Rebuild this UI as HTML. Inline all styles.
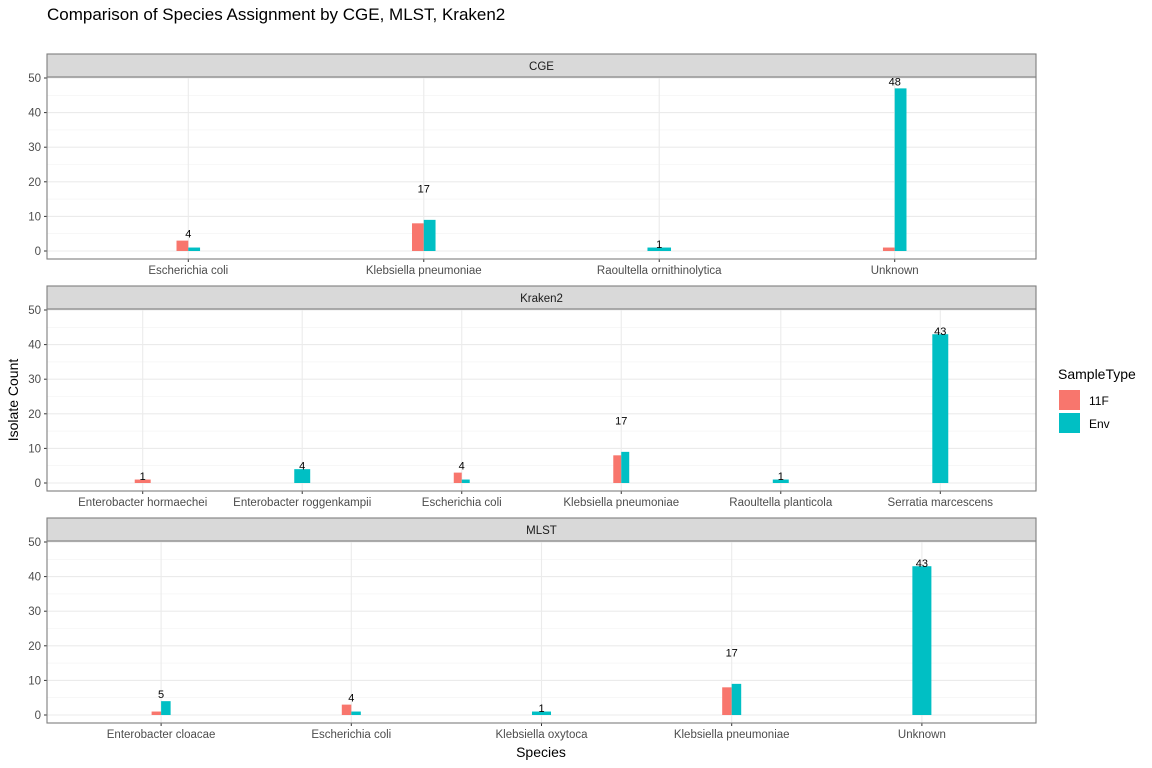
<!DOCTYPE html>
<html><head><meta charset="utf-8"><style>
html,body{margin:0;padding:0;background:#fff;}
svg{display:block;font-family:"Liberation Sans",sans-serif;}
</style></head><body>
<svg id="chart" width="1152" height="768" xmlns="http://www.w3.org/2000/svg">
<text x="47" y="20" font-size="17" fill="#000">Comparison of Species Assignment by CGE, MLST, Kraken2</text>
<text x="18" y="400" font-size="14" fill="#000" transform="rotate(-90 18 400)" text-anchor="middle">Isolate Count</text>
<text x="541" y="757" font-size="14" fill="#000" text-anchor="middle">Species</text>
<g>
<text x="1058" y="379" font-size="14" fill="#000">SampleType</text>
<rect x="1059" y="390" width="21" height="20" fill="#F8766D"/>
<text x="1089" y="405" font-size="12" fill="#000">11F</text>
<rect x="1059" y="413" width="21" height="20" fill="#00BFC4"/>
<text x="1089" y="428" font-size="12" fill="#000">Env</text>
</g>
</svg>
<script>
const panelNames = ["CGE","Kraken2","MLST"];
const cgeCats = ["Escherichia coli","Klebsiella pneumoniae","Raoultella ornithinolytica","Unknown"];
const cge11F = [3,8,0,1];
const cgeEnv = [1,9,1,47];
const krakenCats = ["Enterobacter hormaechei","Enterobacter roggenkampii","Escherichia coli","Klebsiella pneumoniae","Raoultella planticola","Serratia marcescens"];
const kraken11F = [1,0,3,8,0,0];
const krakenEnv = [0,4,1,9,1,43];
const mlstCats = ["Enterobacter cloacae","Escherichia coli","Klebsiella oxytoca","Klebsiella pneumoniae","Unknown"];
const mlst11F = [1,3,0,8,0];
const mlstEnv = [4,1,1,9,43];
const yTicks = [0,10,20,30,40,50];

const NS="http://www.w3.org/2000/svg";
const svg=document.getElementById('chart');
function mk(tag,attrs,parent){const e=document.createElementNS(NS,tag);for(const k in attrs)e.setAttribute(k,attrs[k]);(parent||svg).appendChild(e);return e;}
const panels=[
 {name:panelNames[0],cats:cgeCats,a:cge11F,b:cgeEnv,top:54},
 {name:panelNames[1],cats:krakenCats,a:kraken11F,b:krakenEnv,top:286},
 {name:panelNames[2],cats:mlstCats,a:mlst11F,b:mlstEnv,top:518}
];
const L=47,R=1036;
panels.forEach((p,pi)=>{
 const g=mk('g',{});
 
 
 const pt=p.top+23, pb=pt+182;
 const y0=pt+174, y50=pt+1;
 const ys=v=>y0-(y0-y50)*v/50;
 const n=p.cats.length, step=(R-L)/(n+0.2);
 const xs=i=>L+step*(i+0.6);
 mk('rect',{x:L,y:pt,width:R-L,height:pb-pt,fill:'#fff'},g);
 for(let v=5;v<=45;v+=10){mk('line',{x1:L,x2:R,y1:ys(v),y2:ys(v),stroke:'#F2F2F2','stroke-width':0.6},g);}
 yTicks.forEach(v=>{
  mk('line',{x1:L,x2:R,y1:ys(v),y2:ys(v),stroke:'#EBEBEB','stroke-width':1.1},g);
  mk('line',{x1:L-3,x2:L,y1:ys(v),y2:ys(v),stroke:'#333','stroke-width':1},g);
  const t=mk('text',{x:L-6,y:ys(v)+4,'font-size':11.5,fill:'#4D4D4D','text-anchor':'end'},g);
  t.textContent=v;
  
  
 });
 p.cats.forEach((c,i)=>{
  const cx=xs(i);
  mk('line',{x1:cx,x2:cx,y1:pt,y2:pb,stroke:'#EBEBEB','stroke-width':1.1},g);
  mk('line',{x1:cx,x2:cx,y1:pb,y2:pb+3,stroke:'#333','stroke-width':1},g);
  const t=mk('text',{x:cx,y:pb+15,'font-size':11.5,fill:'#4D4D4D','text-anchor':'middle'},g);
  t.textContent=c;
  
  
  const bw=step*0.1, va=p.a[i], vb=p.b[i];
  const both=va>0&&vb>0;
  const bars=[];
  if(both){bars.push([cx-bw/2,bw/2,va,'#F8766D','11f']);bars.push([cx,bw/2,vb,'#00BFC4','env']);}
  else if(va>0)bars.push([cx-bw/2,bw,va,'#F8766D','11f']);
  else if(vb>0)bars.push([cx-bw/2,bw,vb,'#00BFC4','env']);
  bars.forEach(b=>{
   const r=mk('rect',{x:b[0],y:ys(b[2]),width:b[1],height:y0-ys(b[2]),fill:b[3]},g);
   
   
  });
  const tot=va+vb;
  const lt=mk('text',{x:cx,y:ys(tot+1)+4,'font-size':11,fill:'#000','text-anchor':'middle'},g);
  lt.textContent=tot;
  
  
 });
 mk('rect',{x:L,y:pt,width:R-L,height:pb-pt,fill:'none',stroke:'#7F7F7F','stroke-width':1.1},g);
 const s=mk('rect',{x:L,y:p.top,width:R-L,height:23,fill:'#D9D9D9',stroke:'#7F7F7F','stroke-width':1.1},g);
 
 
 const st=mk('text',{x:(L+R)/2,y:p.top+16,'font-size':11.5,fill:'#1A1A1A','text-anchor':'middle'},g);
 st.textContent=p.name;
 
 
});
</script>
</body></html>
